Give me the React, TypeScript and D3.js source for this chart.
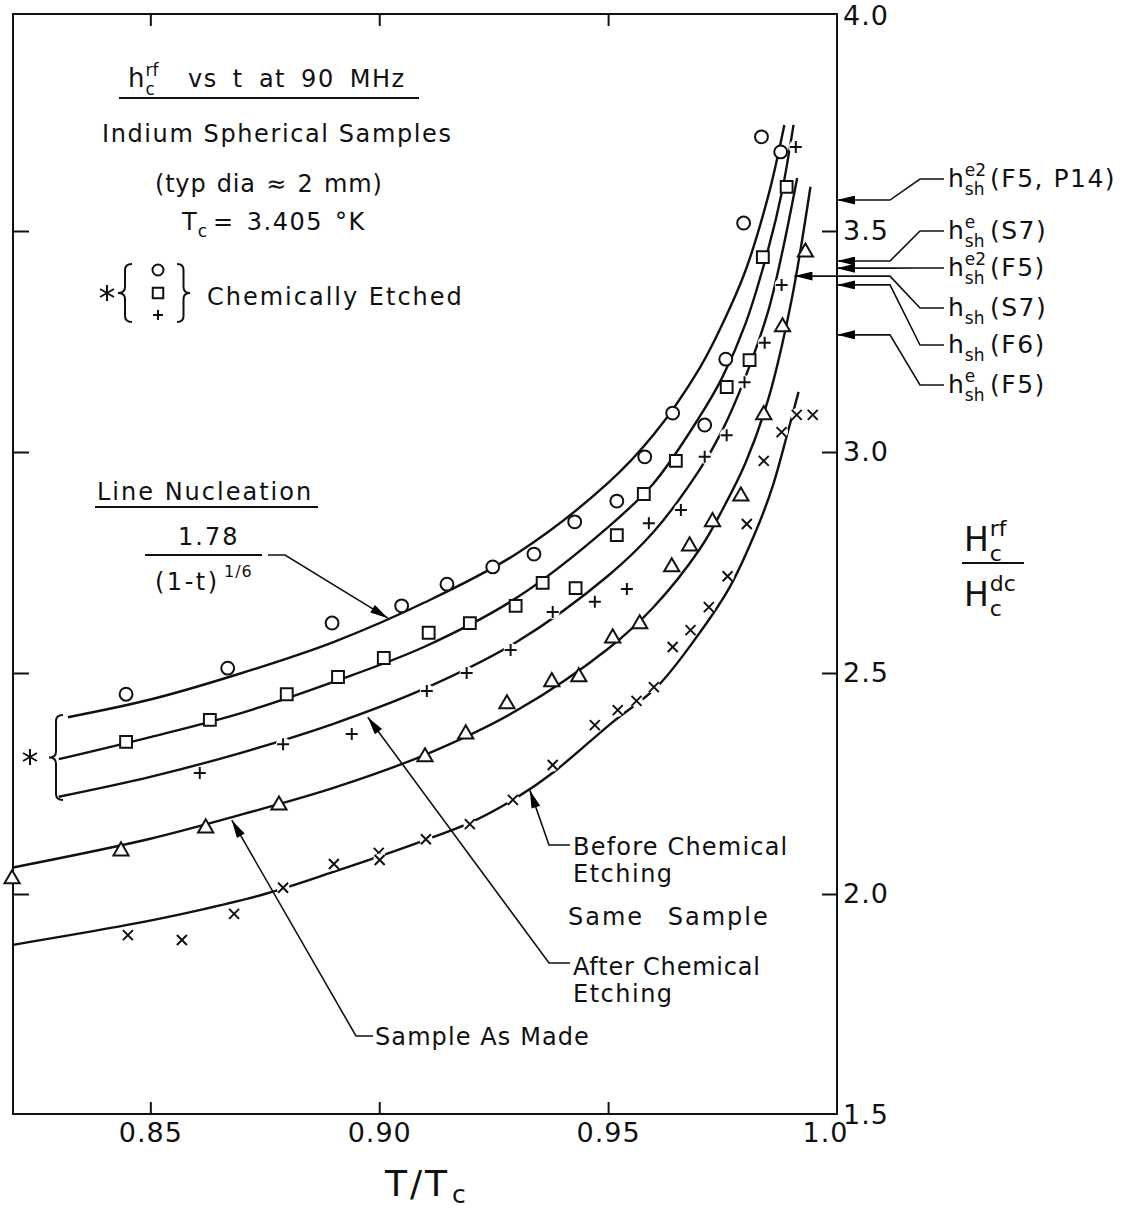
import React, { useRef, useEffect } from 'react';
import * as d3 from 'd3';

const FONT = '"DejaVu Sans", "Liberation Sans", sans-serif';

// axis ticks
const xTickValues = [0.85, 0.9, 0.95, 1.0];
const xTickLabels = ['0.85', '0.90', '0.95', '1.0'];
const yTickValues = [1.5, 2.0, 2.5, 3.0, 3.5, 4.0];
const yTickLabels = ['1.5', '2.0', '2.5', '3.0', '3.5', '4.0'];

// measured points, [T/Tc, Hc_rf / Hc_dc]
const circlePoints = [
  [0.8447, 2.452], [0.8669, 2.511], [0.8897, 2.613], [0.9049, 2.652], [0.9148, 2.701],
  [0.9248, 2.74], [0.9338, 2.769], [0.9427, 2.842], [0.9519, 2.889], [0.958, 2.989],
  [0.9641, 3.088], [0.9711, 3.061], [0.9757, 3.21], [0.9796, 3.518], [0.9835, 3.713],
  [0.9877, 3.679],
];
const squarePoints = [
  [0.8447, 2.344], [0.863, 2.394], [0.8798, 2.452], [0.891, 2.491], [0.901, 2.534],
  [0.9108, 2.591], [0.9198, 2.613], [0.9298, 2.652], [0.9357, 2.704], [0.9429, 2.692],
  [0.9519, 2.812], [0.9578, 2.905], [0.9648, 2.98], [0.9759, 3.147], [0.9809, 3.208],
  [0.9838, 3.441], [0.989, 3.6],
];
const plusPoints = [
  [0.8608, 2.274], [0.879, 2.339], [0.894, 2.362], [0.9104, 2.459], [0.9191, 2.5],
  [0.9287, 2.552], [0.9379, 2.638], [0.9471, 2.661], [0.9541, 2.69], [0.9589, 2.839],
  [0.9659, 2.869], [0.9711, 2.989], [0.9759, 3.038], [0.9798, 3.158], [0.9842, 3.247],
  [0.9879, 3.378], [0.991, 3.69],
];
const trianglePoints = [
  [0.8198, 2.034], [0.8436, 2.097], [0.8621, 2.149], [0.8781, 2.201], [0.91, 2.31],
  [0.9189, 2.362], [0.9279, 2.43], [0.9377, 2.48], [0.9436, 2.491], [0.951, 2.579],
  [0.9569, 2.611], [0.9639, 2.74], [0.9678, 2.787], [0.9728, 2.842], [0.979, 2.9],
  [0.984, 3.084], [0.9881, 3.283], [0.9931, 3.452],
];
const crossPoints = [
  [0.8451, 1.907], [0.8569, 1.896], [0.8683, 1.955], [0.879, 2.014], [0.8901, 2.068],
  [0.8999, 2.093], [0.9001, 2.077], [0.9102, 2.124], [0.9198, 2.158], [0.9292, 2.213],
  [0.9379, 2.292], [0.9471, 2.382], [0.9521, 2.416], [0.9562, 2.437], [0.96, 2.468],
  [0.9641, 2.559], [0.968, 2.597], [0.972, 2.649], [0.9761, 2.719], [0.9803, 2.837],
  [0.984, 2.98], [0.9879, 3.045], [0.9912, 3.084], [0.9947, 3.084],
];

// drawn curves
const nucleationCurve = [
  [0.832, 2.4], [0.85, 2.44], [0.87, 2.5], [0.89, 2.57], [0.91, 2.66], [0.93, 2.77],
  [0.95, 2.93], [0.96, 3.04], [0.97, 3.19], [0.975, 3.29], [0.98, 3.41], [0.985, 3.58],
  [0.9885, 3.74],
];
const squareCurve = [
  [0.83, 2.305], [0.85, 2.355], [0.87, 2.41], [0.89, 2.48], [0.91, 2.56], [0.93, 2.67],
  [0.95, 2.83], [0.96, 2.93], [0.97, 3.08], [0.975, 3.17], [0.98, 3.29], [0.985, 3.46],
  [0.988, 3.59], [0.9905, 3.74],
];
const afterEtchCurve = [
  [0.83, 2.22], [0.85, 2.265], [0.87, 2.32], [0.89, 2.385], [0.91, 2.465], [0.93, 2.57],
  [0.95, 2.72], [0.96, 2.82], [0.97, 2.96], [0.975, 3.05], [0.98, 3.17], [0.985, 3.32],
  [0.988, 3.45], [0.9913, 3.62],
];
const asMadeCurve = [
  [0.82, 2.06], [0.85, 2.125], [0.87, 2.18], [0.89, 2.24], [0.91, 2.315], [0.93, 2.415],
  [0.95, 2.555], [0.96, 2.65], [0.97, 2.78], [0.975, 2.87], [0.98, 2.975], [0.985, 3.12],
  [0.99, 3.34], [0.9942, 3.6],
];
const beforeEtchCurve = [
  [0.82, 1.885], [0.845, 1.93], [0.86, 1.962], [0.875, 2.0], [0.89, 2.05], [0.9, 2.085],
  [0.91, 2.122], [0.92, 2.162], [0.93, 2.218], [0.938, 2.275], [0.951, 2.389],
  [0.9606, 2.468], [0.9693, 2.581], [0.9766, 2.695], [0.9824, 2.824], [0.9859, 2.921],
  [0.9892, 3.043], [0.9916, 3.136],
];

// superheating limits marked at the right axis
const fieldSup = ['e2', 'e', 'e2', '', '', 'e'];
const fieldSource = ['(F5, P14)', '(S7)', '(F5)', '(S7)', '(F6)', '(F5)'];
const fieldValues = [3.57, 3.432, 3.416, 3.398, 3.378, 3.265];
const fieldTipT = [1.0, 1.0, 1.0, 0.9907, 1.0, 1.0];

const App = () => {
  const svgRef = useRef<SVGSVGElement>(null);

  useEffect(() => {
    document.body.style.margin = '0';
    const svg = d3.select(svgRef.current);
    svg.selectAll('*').remove();

    const x = d3.scaleLinear().domain([0.82, 1.0]).range([13, 837]);
    const y = d3.scaleLinear().domain([1.5, 4.0]).range([1115, 10]);
    const top = 14;
    const bottom = 1114;

    svg.append('defs').append('marker')
      .attr('id', 'arr')
      .attr('viewBox', '0 0 20 10')
      .attr('refX', 20)
      .attr('refY', 5)
      .attr('markerWidth', 20)
      .attr('markerHeight', 9)
      .attr('markerUnits', 'userSpaceOnUse')
      .attr('orient', 'auto')
      .append('path')
      .attr('d', 'M0,0L20,5L0,10Z')
      .attr('fill', '#000');

    const g = svg.append('g').attr('font-family', FONT).attr('fill', '#111');

    // frame
    g.append('rect')
      .attr('x', x(0.82))
      .attr('y', top)
      .attr('width', x(1) - x(0.82))
      .attr('height', bottom - top)
      .attr('fill', 'none')
      .attr('stroke', '#111')
      .attr('stroke-width', 2);

    const styleAxis = (a: any) => {
      a.select('.domain').remove();
      a.selectAll('line').attr('stroke', '#111').attr('stroke-width', 2);
      a.selectAll('text').attr('font-size', 27).attr('font-family', FONT).attr('fill', '#111');
    };

    // bottom axis with labels
    const bx = g.append('g')
      .attr('transform', `translate(0,${bottom})`)
      .call(d3.axisBottom(x).tickValues(xTickValues)
        .tickFormat((d: any, i: number) => xTickLabels[i])
        .tickSizeInner(-12).tickSizeOuter(0).tickPadding(9));
    styleAxis(bx);
    bx.selectAll('text').attr('letter-spacing', 1);
    bx.selectAll('text').filter((d: any) => d === 1.0).attr('dx', -12);
    bx.selectAll('line').filter((d: any) => d === 1.0).remove();

    // top ticks
    const tx = g.append('g')
      .attr('transform', `translate(0,${top})`)
      .call(d3.axisTop(x).tickValues([0.85, 0.9, 0.95]).tickFormat(() => '')
        .tickSizeInner(-12).tickSizeOuter(0));
    styleAxis(tx);

    // left ticks
    const lx = g.append('g')
      .attr('transform', `translate(${x(0.82)},0)`)
      .call(d3.axisLeft(y).tickValues([2.0, 2.5, 3.0, 3.5]).tickFormat(() => '')
        .tickSizeInner(-16).tickSizeOuter(0));
    styleAxis(lx);

    // right axis with labels
    const rx = g.append('g')
      .attr('transform', `translate(${x(1)},0)`)
      .call(d3.axisRight(y).tickValues(yTickValues)
        .tickFormat((d: any, i: number) => yTickLabels[i])
        .tickSizeInner(-15).tickSizeOuter(0).tickPadding(6));
    styleAxis(rx);
    rx.selectAll('text').attr('letter-spacing', 1);
    rx.selectAll('line').filter((d: any) => d === 1.5 || d === 4.0).remove();
    rx.selectAll('text').filter((d: any) => d === 4.0).attr('dy', '0.55em');

    // curves
    const line = d3.line<any>()
      .x((d) => x(d[0]))
      .y((d) => y(d[1]))
      .curve(d3.curveCatmullRom.alpha(0.5));
    [nucleationCurve, squareCurve, afterEtchCurve, asMadeCurve, beforeEtchCurve].forEach((c) => {
      g.append('path')
        .datum(c)
        .attr('d', line)
        .attr('fill', 'none')
        .attr('stroke', '#111')
        .attr('stroke-width', 2.4);
    });

    // markers
    const mark = (pts: number[][], path: string, fill: string, halo: number) => {
      const grp = g.append('g');
      pts.forEach((p) => {
        const m = grp.append('g').attr('transform', `translate(${x(p[0])},${y(p[1])})`);
        if (halo > 0) m.append('circle').attr('r', halo).attr('fill', '#fff');
        m.append('path')
          .attr('d', path)
          .attr('fill', fill)
          .attr('stroke', '#111')
          .attr('stroke-width', 2);
      });
    };
    const circlePath = d3.symbol().type(d3.symbolCircle).size(130)() as string;
    const squarePath = d3.symbol().type(d3.symbolSquare).size(140)() as string;
    const trianglePath = d3.symbol().type(d3.symbolTriangle).size(100)() as string;
    const plusPath = 'M-6,0H6M0,-6V6';
    const crossPath = 'M-5,-5L5,5M-5,5L5,-5';
    mark(circlePoints, circlePath, '#fff', 0);
    mark(squarePoints, squarePath, '#fff', 0);
    mark(trianglePoints, trianglePath, '#fff', 0);
    mark(plusPoints, plusPath, 'none', 7);
    mark(crossPoints, crossPath, 'none', 6.5);

    // text helpers
    const text = (px: number, py: number, s: string, size: number, ls = 0, ws = 0) => {
      const t = g.append('text').attr('x', px).attr('y', py).attr('font-size', size).text(s);
      if (ls) t.attr('letter-spacing', ls);
      if (ws) t.attr('word-spacing', ws);
      return t;
    };
    const len = (t: any) => (t.node() as SVGTextElement).getComputedTextLength();
    const scripted = (px: number, py: number, base: string, sup: string, sub: string, size: number, ss: number) => {
      const b = text(px, py, base, size);
      const sx = px + len(b) + 1;
      let w = 0;
      if (sup) w = Math.max(w, len(text(sx, py - size * 0.44, sup, ss)));
      if (sub) w = Math.max(w, len(text(sx, py + size * 0.3, sub, ss)));
      return sx + w;
    };
    const seg = (pts: number[][], width = 1.6, arrow = false) => {
      const p = g.append('path')
        .attr('d', d3.line()(pts as any))
        .attr('fill', 'none')
        .attr('stroke', '#111')
        .attr('stroke-width', width);
      if (arrow) p.attr('marker-end', 'url(#arr)');
      return p;
    };
    const brace = (tipX: number, armX: number, y0: number, y1: number) => {
      const mx = (tipX + armX) / 2;
      const ym = (y0 + y1) / 2;
      const r = 6;
      return `M${armX},${y0}Q${mx},${y0} ${mx},${y0 + r}L${mx},${ym - r}Q${mx},${ym} ${tipX},${ym}` +
        `Q${mx},${ym} ${mx},${ym + r}L${mx},${y1 - r}Q${mx},${y1} ${armX},${y1}`;
    };
    const asterisk = (cx: number, cy: number, r: number) => {
      const c = r * Math.cos(Math.PI / 6);
      const s = r * 0.5;
      return `M${cx},${cy - r}L${cx},${cy + r}M${cx - c},${cy - s}L${cx + c},${cy + s}M${cx - c},${cy + s}L${cx + c},${cy - s}`;
    };
    const drawPath = (d: string, width = 2) =>
      g.append('path').attr('d', d).attr('fill', 'none').attr('stroke', '#111').attr('stroke-width', width);

    // title block
    scripted(128, 87, 'h', 'rf', 'c', 26, 17);
    text(188, 87, 'vs t at 90 MHz', 24, 1.5, 6);
    seg([[119, 98], [419, 98]], 2);
    text(102, 142, 'Indium Spherical Samples', 24, 1.6);
    text(155, 192, '(typ dia ≈ 2 mm)', 24, 0.8, 2);
    scripted(182, 230, 'T', '', 'c', 24, 17);
    text(213, 230, '= 3.405 °K', 24, 1.5, 3);

    // chemically etched key
    drawPath(asterisk(107, 293, 8), 2);
    drawPath(brace(118, 132, 264, 322), 2);
    drawPath(brace(190, 177, 264, 322), 2);
    g.append('path').attr('d', d3.symbol().type(d3.symbolCircle).size(95)() as string)
      .attr('transform', 'translate(158,270)').attr('fill', 'none').attr('stroke', '#111').attr('stroke-width', 2);
    g.append('path').attr('d', d3.symbol().type(d3.symbolSquare).size(110)() as string)
      .attr('transform', 'translate(158,293)').attr('fill', 'none').attr('stroke', '#111').attr('stroke-width', 2);
    g.append('path').attr('d', 'M-5,0H5M0,-5V5')
      .attr('transform', 'translate(158,315)').attr('fill', 'none').attr('stroke', '#111').attr('stroke-width', 2);
    text(207, 305, 'Chemically Etched', 24, 2);

    // line nucleation label
    text(97, 500, 'Line Nucleation', 24, 2);
    seg([[95, 507], [318, 507]], 2);
    text(178, 545, '1.78', 24, 2);
    seg([[145, 555], [262, 555]], 2);
    text(155, 590, '(1-t)', 24, 2.5);
    text(224, 577, '1/6', 16, 1);
    seg([[268, 555], [285, 555], [x(0.9019), y(2.624)]], 1.6, true);

    // brace for the etched curves
    drawPath(brace(49, 63, 715, 800), 2);
    drawPath(asterisk(30, 757, 8), 2);

    // sample annotations
    text(573, 855, 'Before Chemical', 24, 1.2);
    text(573, 882, 'Etching', 24, 1.5);
    seg([[570, 845], [549, 845], [x(0.9329), y(2.235)]], 1.6, true);
    text(568, 925, 'Same Sample', 24, 2, 14);
    text(573, 975, 'After Chemical', 24, 0.8);
    text(573, 1002, 'Etching', 24, 1.5);
    seg([[570, 963], [549, 963], [x(0.8975), y(2.4)]], 1.6, true);
    text(375, 1045, 'Sample As Made', 24, 1.1);
    seg([[373, 1036], [356, 1036], [x(0.8678), y(2.167)]], 1.6, true);

    // right-hand superheating field labels
    const baselines = [187, 239, 276, 316, 353, 393];
    fieldValues.forEach((v, i) => {
      const by = baselines[i];
      const ly = by - 8;
      scripted(948, by, 'h', fieldSup[i], 'sh', 25, 17);
      text(990, by, fieldSource[i], 25, 1.5);
      seg([[944, ly], [920, ly], [890, y(v)], [x(fieldTipT[i]), y(v)]], 1.6, true);
    });

    // axis titles
    scripted(964, 551, 'H', 'rf', 'c', 33, 22);
    seg([[962, 563], [1024, 563]], 2);
    scripted(964, 606, 'H', 'dc', 'c', 33, 22);
    const tt = text(385, 1196, 'T/T', 36, 3);
    text(385 + len(tt) + 2, 1203, 'c', 25);
  }, []);

  return <svg ref={svgRef} width={1124} height={1211} style={{ display: 'block' }} />;
};

export default App;
